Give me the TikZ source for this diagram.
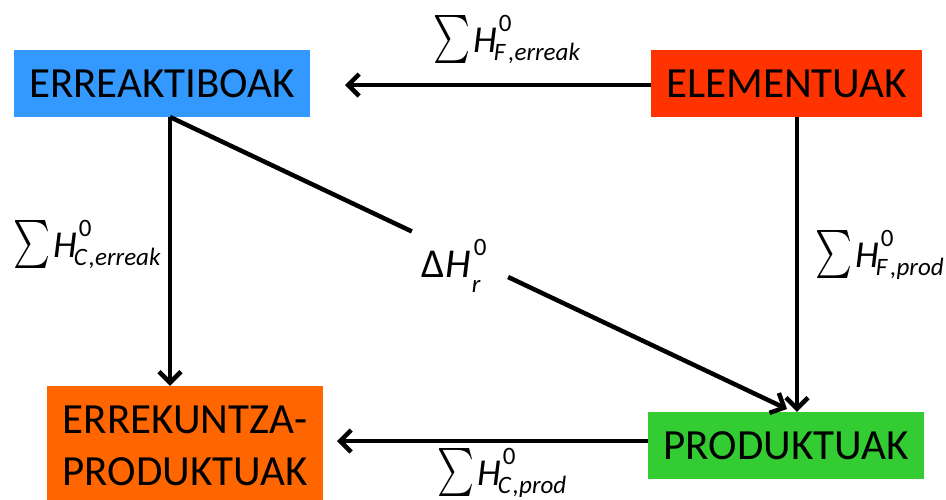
\documentclass[tikz,border=0pt]{standalone}
\usepackage{fontspec}
\setmainfont{Carlito}
\usepackage{graphicx}
\usetikzlibrary{arrows.meta,calc}
\definecolor{cblue}{HTML}{3399FF}
\definecolor{cred}{HTML}{FF3300}
\definecolor{corange}{HTML}{FF6600}
\definecolor{cgreen}{HTML}{33CC33}
\newcommand{\Hf}{\fontsize{38}{38}\selectfont}
\newcommand{\Df}{\fontsize{41}{41}\selectfont}
\newcommand{\Sf}{\fontsize{25}{25}\selectfont}
\newcommand{\bigsum}{\raisebox{-11pt}{\resizebox*{37pt}{48pt}{\raisebox{\depth}{$\sum$}}}}
\newcommand{\sumH}[1]{\bigsum\kern3pt{\Hf\itshape H}\rlap{\kern2pt\raisebox{21pt}{\Sf 0}}\kern-3pt\raisebox{-8pt}{\Sf\itshape #1}}
\newcommand{\deltaH}{{\Df Δ\kern1pt\itshape H}\rlap{\kern3pt\raisebox{22pt}{\Sf 0}}\kern1pt\raisebox{-15pt}{\Sf\itshape r}}
\tikzset{
  box/.style={draw=none, inner sep=0pt, font=\fontsize{43}{52}\selectfont, align=center, text=black},
  arr/.style={line width=4.5pt, -{Straight Barb[length=11pt,width=22pt,line join=miter]}},
  seg/.style={line width=4.5pt},
  lab/.style={inner sep=0pt, anchor=base west}
}
\begin{document}
\begin{tikzpicture}[x=1pt,y=-1pt]
\useasboundingbox (0,0) rectangle (946,499);
\node[box, fill=cblue, minimum width=296, minimum height=67] (reak) at (162,83.5) {ERREAKTIBOAK};
\node[box, fill=cred, minimum width=271, minimum height=67] (elem) at (786.5,83.5) {ELEMENTUAK};
\node[box, fill=corange, minimum width=276, minimum height=120] (erre) at (185,446) {ERREKUNTZA-\\PRODUKTUAK};
\node[box, fill=cgreen, minimum width=276, minimum height=67] (prod) at (786,445.5) {PRODUKTUAK};

\coordinate (tt) at (345,85);
\coordinate (bt) at (337,441);
\coordinate (lv) at (170,0);
\coordinate (rv) at (797,0);
\coordinate (ds) at (170,117);
\coordinate (de) at (787,409);
\coordinate (g1) at ($(ds)!0.392!(de)$);
\coordinate (g2) at ($(ds)!0.548!(de)$);

\draw[arr] (elem.west |- tt) -- (tt);
\draw[arr] (prod.west |- bt) -- (bt);
\draw[arr] (reak.south -| lv) -- (erre.north -| lv);
\draw[arr] (elem.south -| rv) -- (prod.north -| rv);
\draw[seg] (ds) -- (g1);
\draw[arr] (g2) -- (de);

\node[lab] (l1) at (433,52) {\sumH{F\kern3pt,erreak}};
\node[lab] (l2) at (13,257) {\sumH{C\kern2pt,erreak}};
\node[lab] (l3) at (421,277) {\deltaH};
\node[lab] (l4) at (815,267) {\sumH{F\kern3pt,prod}};
\node[lab] (l5) at (437,485) {\sumH{C\kern2pt,prod}};
\end{tikzpicture}
\end{document}
